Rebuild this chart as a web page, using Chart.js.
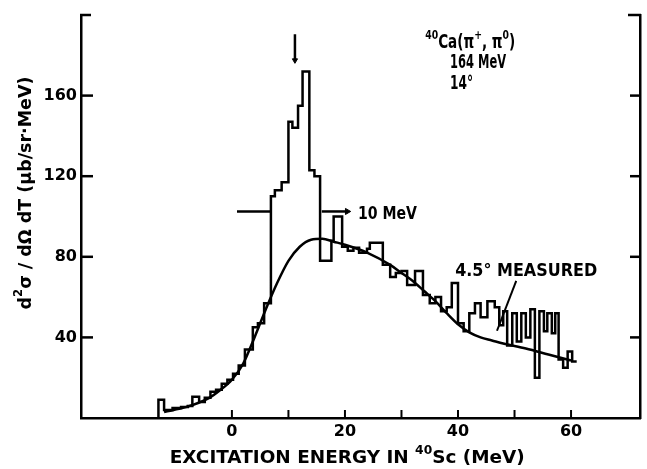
<!DOCTYPE html>
<html lang="en">
<head>
  <meta charset="UTF-8" />
  <title>40Ca(π+,π0) 164 MeV</title>
  <script src="https://cdn.jsdelivr.net/npm/chart.js"></script>
  <style>
    html, body { margin: 0; padding: 0; background: #fff; }
    #espectro { display: block; }
  </style>
</head>
<body>
  <canvas id="espectro" width="647" height="469"></canvas>

  <script>
    // measured spectrum: left edge of each bin (MeV) and its value (μb/sr·MeV)
    const binEdges = [-13.0, -12.0, -10.5, -9.0, -7.8, -7.0, -5.8, -4.8, -3.8, -2.8,
      -1.8, -0.8, 0.2, 1.2, 2.3, 3.7, 4.6, 5.7, 6.9, 7.6,
      8.8, 10.0, 10.7, 11.7, 12.5, 13.7, 14.6, 15.6, 17.6, 18.0,
      19.5, 20.5, 21.5, 22.5, 23.9, 24.4, 26.7, 28.0, 29.0, 30.0,
      31.0, 32.4, 33.8, 35.0, 36.0, 37.0, 38.0, 38.9, 40.0, 41.0,
      42.0, 43.0, 44.0, 45.2, 46.5, 47.3, 48.0, 48.7, 49.6, 50.4,
      51.2, 52.0, 52.8, 53.6, 54.4, 55.2, 55.8, 56.6, 57.2, 57.8,
      58.6, 59.4, 60.2];
    const binValues = [9, 4, 5, 5.5, 6, 10.5, 8, 10, 13, 14,
      17, 19, 22, 26, 34, 45, 47, 57, 110, 113,
      117, 147, 144, 155, 172, 123, 120, 78, 88, 100,
      85, 83, 84.5, 82, 84, 87, 76, 70, 72, 73,
      66, 73, 61, 57, 60, 53, 55, 67, 47, 43,
      52, 57, 50, 58, 55, 46, 53, 36, 52, 38,
      52, 40, 54, 20, 53, 43, 52, 42, 52, 29,
      25, 33, 28];
    const lastEdge = 61;

    // smooth quasi-free curve
    const curveEnergy = [-12, -8, -4, -2, 0, 2, 4, 6, 8, 10, 12, 14, 16, 18, 20, 24, 28, 30, 32, 34, 36, 38, 40, 42, 44, 46, 48, 52, 56, 60];
    const curveValues = [3, 5.5, 10, 14, 19, 27, 40, 54, 67, 78, 85, 88.5, 89, 87.5, 86, 82, 76, 72, 68, 63, 58, 52, 46.5, 42.5, 40, 38.5, 37, 34.5, 31.5, 28.5];

    const yTicks = [40, 80, 120, 160];
    const xTickLabels = [0, 20, 40, 60];
    const xTickMarks = [0, 10, 20, 30, 40, 50, 60];

    // 10 MeV bars beside the peak, arrow over the peak, pointer to the 4.5° data
    const widthBarLevel = 102.5;
    const widthBarLeft = [0.9, 6.9];
    const widthBarRight = [15.9, 20.4];
    const peakArrowE = 11.15;
    const peakArrowV = [190.5, 177.5];
    const pointerE = [50.3, 46.9];
    const pointerV = [68, 43.3];

    const FAMILY = '"DejaVu Sans", sans-serif';

    function histogramPoints() {
      const pts = [{ x: binEdges[0], y: 0 }];
      binEdges.forEach((e, i) => pts.push({ x: e, y: binValues[i] }));
      pts.push({ x: lastEdge, y: binValues[binValues.length - 1] });
      return pts;
    }

    // text made of runs [text, superscript?], squeezed to a given width
    function drawRuns(ctx, runs, x, y, size, width, align) {
      const supSize = Math.round(size * 0.68);
      const fontOf = sup => `bold ${sup ? supSize : size}px ${FAMILY}`;
      let natural = 0;
      runs.forEach(([t, sup]) => { ctx.font = fontOf(sup); natural += ctx.measureText(t).width; });
      const sx = width ? width / natural : 1;
      const total = natural * sx;
      ctx.save();
      ctx.translate(align === 'center' ? x - total / 2 : x, y);
      ctx.scale(sx, 1);
      ctx.textAlign = 'left';
      ctx.textBaseline = 'alphabetic';
      let cx = 0;
      runs.forEach(([t, sup]) => {
        ctx.font = fontOf(sup);
        ctx.fillText(t, cx, sup ? -size * 0.48 : 0);
        cx += ctx.measureText(t).width;
      });
      ctx.restore();
    }

    const frameAndLabels = {
      id: 'frameAndLabels',
      afterDatasetsDraw(chart) {
        const { ctx, chartArea: a, scales: { x, y } } = chart;
        const line = (x1, y1, x2, y2) => { ctx.beginPath(); ctx.moveTo(x1, y1); ctx.lineTo(x2, y2); ctx.stroke(); };
        ctx.save();
        ctx.strokeStyle = '#000';
        ctx.fillStyle = '#000';

        // ticks pointing into the plot
        ctx.lineWidth = 2.5;
        yTicks.forEach(v => {
          const py = y.getPixelForValue(v);
          line(a.left, py, a.left + 12, py);
          line(a.right - 10, py, a.right, py);
        });
        ctx.lineWidth = 2;
        xTickMarks.forEach(v => {
          const px = x.getPixelForValue(v);
          line(px, a.bottom, px, a.bottom - 8);
        });
        // short hooks closing the top corners
        ctx.lineWidth = 2.5;
        line(a.left - 1, a.top, a.left + 10, a.top);
        line(a.right - 12, a.top, a.right + 1, a.top);

        // reaction and kinematics
        drawRuns(ctx, [['40', true], ['Ca(π', false], ['+', true], [', π', false], ['0', true], [')', false]],
          x.getPixelForValue(34.2), y.getPixelForValue(183.5), 19, 90);
        drawRuns(ctx, [['164 MeV', false]], x.getPixelForValue(38.6), y.getPixelForValue(173.5), 19, 56);
        drawRuns(ctx, [['14°', false]], x.getPixelForValue(38.6), y.getPixelForValue(163.5), 19, 23);
        drawRuns(ctx, [['10 MeV', false]], x.getPixelForValue(22.3), y.getPixelForValue(99), 17, 59);
        drawRuns(ctx, [['4.5° MEASURED', false]], x.getPixelForValue(39.5), y.getPixelForValue(70.5), 17, 142);

        // axis titles
        drawRuns(ctx, [['EXCITATION ENERGY IN ', false], ['40', true], ['Sc (MeV)', false]],
          x.getPixelForValue(20.4), 463, 18, 355, 'center');
        ctx.save();
        ctx.translate(31, 193);
        ctx.rotate(-Math.PI / 2);
        drawRuns(ctx, [['d', false], ['2', true], ['σ / dΩ dT (μb/sr·MeV)', false]], 0, 0, 18, 233, 'center');
        ctx.restore();

        ctx.restore();
      }
    };

    function buildChart() {
      const ctx = document.getElementById('espectro').getContext('2d');
      const tickFont = { family: FAMILY, size: 16, weight: 'bold' };

      new Chart(ctx, {
        type: 'scatter',
        data: {
          datasets: [
            {
              label: 'spectrum',
              data: histogramPoints(),
              showLine: true,
              stepped: true,
              borderColor: '#000',
              borderWidth: 2.5,
              pointRadius: 0,
            },
            {
              label: 'curve',
              data: curveEnergy.map((e, i) => ({ x: e, y: curveValues[i] })),
              showLine: true,
              cubicInterpolationMode: 'monotone',
              borderColor: '#000',
              borderWidth: 2.5,
              pointRadius: 0,
            },
            {
              label: 'width left',
              data: widthBarLeft.map(e => ({ x: e, y: widthBarLevel })),
              showLine: true,
              borderColor: '#000',
              borderWidth: 2.5,
              pointRadius: 0,
            },
            {
              label: 'width right',
              data: widthBarRight.map(e => ({ x: e, y: widthBarLevel })),
              showLine: true,
              borderColor: '#000',
              borderWidth: 2.5,
              pointStyle: 'triangle',
              pointRotation: 90,
              pointRadius: [0, 3.5],
              pointBorderWidth: 1,
              pointBackgroundColor: '#000',
              pointBorderColor: '#000',
            },
            {
              label: 'peak arrow',
              data: peakArrowV.map(v => ({ x: peakArrowE, y: v })),
              showLine: true,
              borderColor: '#000',
              borderWidth: 2.5,
              pointStyle: 'triangle',
              pointRotation: 180,
              pointRadius: [0, 3],
              pointBorderWidth: 1,
              pointBackgroundColor: '#000',
              pointBorderColor: '#000',
            },
            {
              label: 'pointer',
              data: pointerE.map((e, i) => ({ x: e, y: pointerV[i] })),
              showLine: true,
              borderColor: '#000',
              borderWidth: 2,
              pointRadius: 0,
            },
          ],
        },
        options: {
          responsive: false,
          animation: false,
          events: [],
          layout: { padding: { top: 15, right: 7, left: 0, bottom: 0 } },
          plugins: {
            legend: { display: false },
            tooltip: { enabled: false },
          },
          scales: {
            x: {
              type: 'linear',
              min: -26.7,
              max: 72.2,
              grid: { display: false, drawTicks: false },
              border: { display: true, color: '#000', width: 2.5 },
              afterBuildTicks: s => { s.ticks = xTickLabels.map(v => ({ value: v })); },
              afterFit: s => { s.height = 51; },
              ticks: { color: '#000', font: tickFont, padding: 4, maxRotation: 0, autoSkip: false },
            },
            y: {
              type: 'linear',
              position: 'left',
              min: 0,
              max: 200,
              grid: { display: false, drawTicks: false },
              border: { display: true, color: '#000', width: 2.5 },
              afterBuildTicks: s => { s.ticks = yTicks.map(v => ({ value: v })); },
              afterFit: s => { s.width = 81; },
              ticks: { color: '#000', font: tickFont, padding: 4 },
            },
            y2: {
              type: 'linear',
              position: 'right',
              min: 0,
              max: 200,
              grid: { display: false, drawTicks: false },
              border: { display: true, color: '#000', width: 2.5 },
              ticks: { display: false },
              afterFit: s => { s.width = 0; },
            },
          },
        },
        plugins: [frameAndLabels],
      });
    }

    buildChart();
  </script>
</body>
</html>
